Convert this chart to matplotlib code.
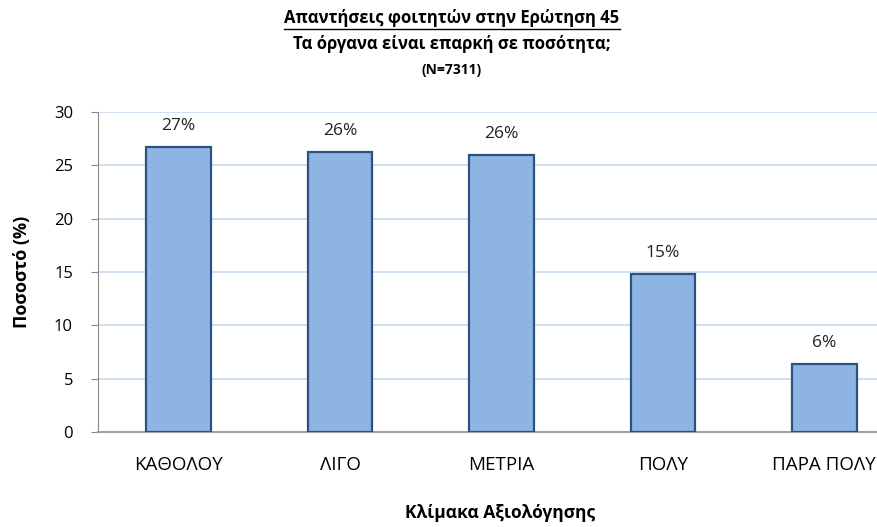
import matplotlib
matplotlib.use('Agg')
import matplotlib.pyplot as plt

# Δεδομένα (ποσοστά απαντήσεων)
categories = ['ΚΑΘΟΛΟΥ', 'ΛΙΓΟ', 'ΜΕΤΡΙΑ', 'ΠΟΛΥ', 'ΠΑΡΑ ΠΟΛΥ']
values = [26.75, 26.27, 25.96, 14.8, 6.37]
value_labels = ['27%', '26%', '26%', '15%', '6%']
yticks = [0, 5, 10, 15, 20, 25, 30]

plt.rcParams['font.family'] = ['Open Sans', 'DejaVu Sans']

fig = plt.figure(figsize=(8.78, 5.27), dpi=100)
# ο άξονας ξεπερνά λίγο το δεξί όριο, όπως στο πρωτότυπο
ax = fig.add_axes([98 / 878, 1 - 432 / 527, 807 / 878, 320 / 527])

x = range(len(categories))
ax.bar(x, values, width=0.4, color='#8EB4E3', edgecolor='#2B5283',
       linewidth=1.6, zorder=3)

for xi, v, lab in zip(x, values, value_labels):
    ax.annotate(lab, (xi, v), xytext=(0, 15), textcoords='offset points',
                ha='center', va='center', fontsize=12.5, color='#222222')

ax.set_xlim(-0.5, len(categories) - 0.5)
ax.set_ylim(0, 30)
ax.set_yticks(yticks)
ax.set_xticks(list(x))
ax.set_xticklabels(categories, fontsize=13.5)
ax.tick_params(axis='x', length=0, pad=17)
ax.tick_params(axis='y', length=5, color='#898989', pad=13, labelsize=12)

ax.grid(axis='y', color='#C6D9F1', linewidth=1.2, zorder=0)
ax.set_axisbelow(True)
for s in ['top', 'right']:
    ax.spines[s].set_visible(False)
ax.spines['left'].set_color('#898989')
ax.spines['bottom'].set_color('#A0A0A0')
ax.spines['bottom'].set_linewidth(1.5)

# Τίτλοι
t1 = fig.text(452 / 878, 1 - 18 / 527, 'Απαντήσεις φοιτητών στην Ερώτηση 45',
              ha='center', va='center', fontsize=12, fontweight='bold')
fig.text(452 / 878, 1 - 44 / 527, 'Τα όργανα είναι επαρκή σε ποσότητα;',
         ha='center', va='center', fontsize=12, fontweight='bold')
fig.text(452 / 878, 1 - 70 / 527, '(N=7311)',
         ha='center', va='center', fontsize=10, fontweight='bold')

# υπογράμμιση στο πλάτος του πρώτου τίτλου
fig.canvas.draw()
bb = t1.get_window_extent().transformed(fig.transFigure.inverted())
fig.add_artist(plt.Line2D([bb.x0, bb.x1], [1 - 28.5 / 527, 1 - 28.5 / 527],
                          color='black', linewidth=1))

fig.text(22 / 878, 1 - 272 / 527, 'Ποσοστό (%)', rotation=90,
         ha='center', va='center', fontsize=13, fontweight='bold')
fig.text(500 / 878, 1 - 513 / 527, 'Κλίμακα Αξιολόγησης',
         ha='center', va='center', fontsize=12.5, fontweight='bold')

fig.savefig('out.png', dpi=100)
